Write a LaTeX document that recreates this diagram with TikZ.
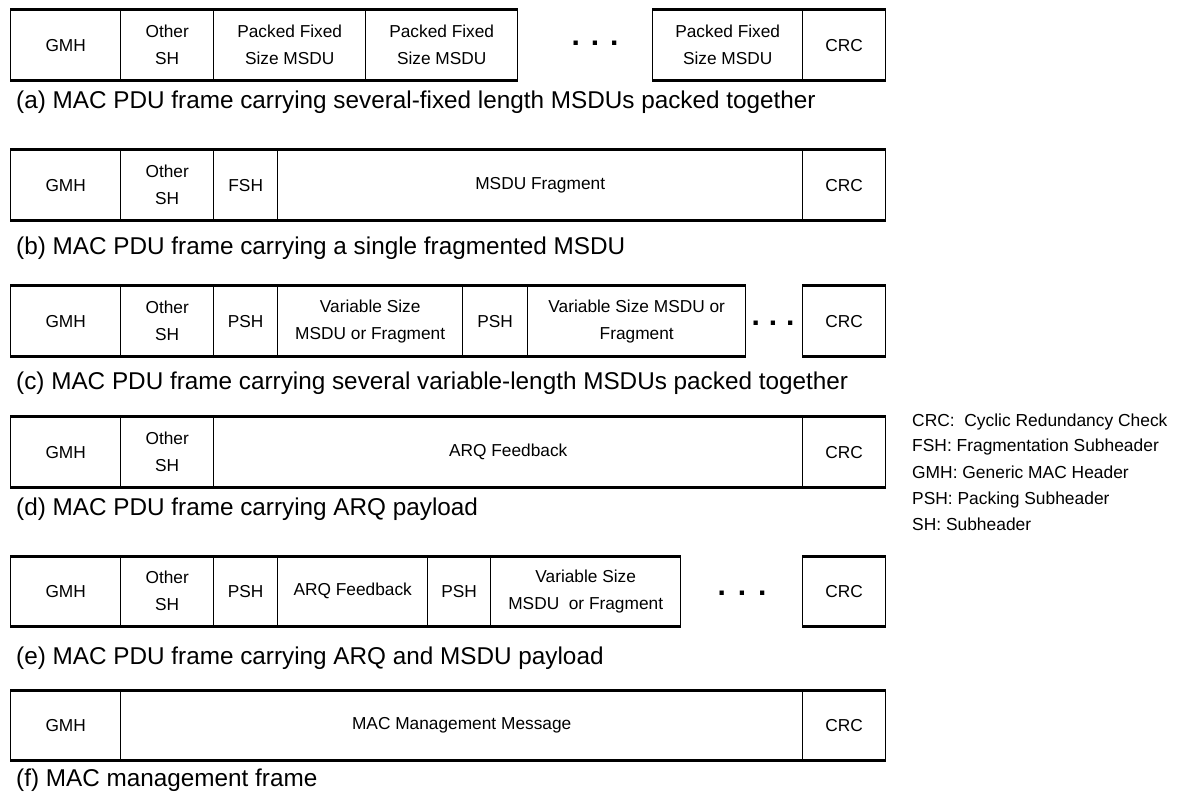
\documentclass[tikz,border=0pt]{standalone}
\usepackage{fontspec}
\setmainfont{Liberation Sans}
\begin{document}
\begin{tikzpicture}[x=1pt,y=-1pt,
  cell/.style={draw, line width=1.4pt, minimum height=69pt, inner sep=0pt,
    anchor=north west, align=center, font=\fontsize{17.3}{27}\selectfont},
  frameedge/.style={line width=3pt},
  capt/.style={anchor=west, inner sep=0pt, font=\fontsize{24.3}{28}\selectfont},
  legtext/.style={anchor=west, inner sep=0pt, font=\fontsize{17.4}{20}\selectfont},
  dotsnode/.style={inner sep=0pt, font=\fontsize{30}{30}\selectfont\bfseries}]
\useasboundingbox (0,0) rectangle (1179,794);
% (a)
\node[cell, minimum width=110pt] (a1) at (10,10) {GMH};
\node[cell, minimum width=93pt] (a2) at (120,10) {Other\\SH};
\node[cell, minimum width=152pt] (a3) at (213,10) {Packed Fixed\\Size MSDU};
\node[cell, minimum width=152pt] (a4) at (365,10) {Packed Fixed\\Size MSDU};
\node[dotsnode] (a5) at (595,43) {.\hspace{11pt}.\hspace{11pt}.};
\node[cell, minimum width=150pt] (a6) at (652,10) {Packed Fixed\\Size MSDU};
\node[cell, minimum width=83pt] (a7) at (802,10) {CRC};
\draw[frameedge] (a1.north west) -- (a4.north east) (a1.south west) -- (a4.south east);
\draw[frameedge] (a6.north west) -- (a7.north east) (a6.south west) -- (a7.south east);
\node[capt] (ca) at (16,102) {(a) MAC PDU frame carrying several-fixed length MSDUs packed together};
% (b)
\node[cell, minimum width=110pt] (b1) at (10,150) {GMH};
\node[cell, minimum width=93pt] (b2) at (120,150) {Other\\SH};
\node[cell, minimum width=64pt] (b3) at (213,150) {FSH};
\node[cell, minimum width=525pt] (b4) at (277,150) {MSDU Fragment};
\node[cell, minimum width=83pt] (b5) at (802,150) {CRC};
\draw[frameedge] (b1.north west) -- (b5.north east) (b1.south west) -- (b5.south east);
\node[capt] (cb) at (16,248) {(b) MAC PDU frame carrying a single fragmented MSDU};
% (c)
\node[cell, minimum width=110pt] (c1) at (10,286) {GMH};
\node[cell, minimum width=93pt] (c2) at (120,286) {Other\\SH};
\node[cell, minimum width=64pt] (c3) at (213,286) {PSH};
\node[cell, minimum width=185pt] (c4) at (277,286) {Variable Size\\MSDU or Fragment};
\node[cell, minimum width=65pt] (c5) at (462,286) {PSH};
\node[cell, minimum width=218pt] (c6) at (527,286) {Variable Size MSDU or\\Fragment};
\node[dotsnode] (c7) at (773,323) {.\hspace{9pt}.\hspace{9pt}.};
\node[cell, minimum width=83pt] (c8) at (802,286) {CRC};
\draw[frameedge] (c1.north west) -- (c6.north east) (c1.south west) -- (c6.south east);
\draw[frameedge] (c8.north west) -- (c8.north east) (c8.south west) -- (c8.south east);
\node[capt] (cc) at (16,383) {(c) MAC PDU frame carrying several variable-length MSDUs packed together};
% (d)
\node[cell, minimum width=110pt] (d1) at (10,417) {GMH};
\node[cell, minimum width=93pt] (d2) at (120,417) {Other\\SH};
\node[cell, minimum width=589pt] (d3) at (213,417) {ARQ Feedback};
\node[cell, minimum width=83pt] (d4) at (802,417) {CRC};
\draw[frameedge] (d1.north west) -- (d4.north east) (d1.south west) -- (d4.south east);
\node[capt] (cd) at (16,509) {(d) MAC PDU frame carrying ARQ payload};
% (e)
\node[cell, minimum width=110pt] (e1) at (10,556) {GMH};
\node[cell, minimum width=93pt] (e2) at (120,556) {Other\\SH};
\node[cell, minimum width=64pt] (e3) at (213,556) {PSH};
\node[cell, minimum width=150pt] (e4) at (277,556) {ARQ Feedback};
\node[cell, minimum width=63pt] (e5) at (427,556) {PSH};
\node[cell, minimum width=190pt] (e6) at (490,556) {Variable Size\\MSDU\ \ or Fragment};
\node[dotsnode] (e7) at (742,593) {.\hspace{12pt}.\hspace{12pt}.};
\node[cell, minimum width=83pt] (e8) at (802,556) {CRC};
\draw[frameedge] (e1.north west) -- (e6.north east) (e1.south west) -- (e6.south east);
\draw[frameedge] (e8.north west) -- (e8.north east) (e8.south west) -- (e8.south east);
\node[capt] (ce) at (16,658) {(e) MAC PDU frame carrying ARQ and MSDU payload};
% (f)
\node[cell, minimum width=110pt] (f1) at (10,690) {GMH};
\node[cell, minimum width=682pt] (f2) at (120,690) {MAC Management Message};
\node[cell, minimum width=83pt] (f3) at (802,690) {CRC};
\draw[frameedge] (f1.north west) -- (f3.north east) (f1.south west) -- (f3.south east);
\node[capt] (cf) at (16,780) {(f) MAC management frame};
% legend
\node[legtext] (l1) at (912,422) {CRC:\ \ Cyclic Redundancy Check};
\node[legtext] (l2) at (912,447) {FSH: Fragmentation Subheader};
\node[legtext] (l3) at (912,472) {GMH: Generic MAC Header};
\node[legtext] (l4) at (912,500) {PSH: Packing Subheader};
\node[legtext] (l5) at (912,524) {SH: Subheader};
\end{tikzpicture}
\end{document}
